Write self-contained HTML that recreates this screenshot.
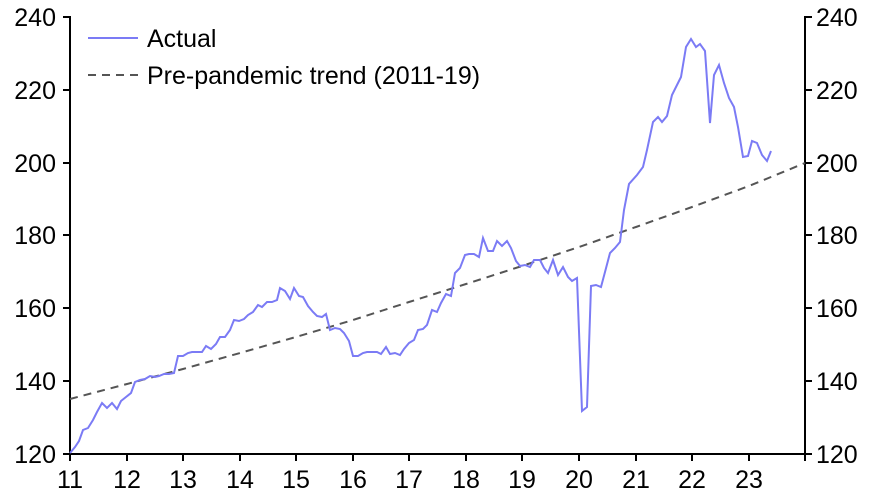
<!DOCTYPE html>
<html><head><style>body{margin:0;background:#fff}svg{display:block}text{font-family:"Liberation Sans",Arial,sans-serif;font-size:25px;fill:#000}</style></head><body>
<svg width="874" height="496" viewBox="0 0 874 496">
<g stroke="#000" stroke-width="2">
<line x1="70" y1="16" x2="70" y2="455"/>
<line x1="805" y1="16" x2="805" y2="455"/>
<line x1="63" y1="454" x2="805" y2="454"/>
<line x1="63" y1="17" x2="70" y2="17"/><line x1="63" y1="90" x2="70" y2="90"/><line x1="63" y1="163" x2="70" y2="163"/><line x1="63" y1="235" x2="70" y2="235"/><line x1="63" y1="308" x2="70" y2="308"/><line x1="63" y1="381" x2="70" y2="381"/>
<line x1="805" y1="17" x2="812" y2="17"/><line x1="805" y1="90" x2="812" y2="90"/><line x1="805" y1="163" x2="812" y2="163"/><line x1="805" y1="235" x2="812" y2="235"/><line x1="805" y1="308" x2="812" y2="308"/><line x1="805" y1="381" x2="812" y2="381"/><line x1="805" y1="454" x2="812" y2="454"/>
<line x1="70" y1="454" x2="70" y2="461"/><line x1="127" y1="454" x2="127" y2="461"/><line x1="183" y1="454" x2="183" y2="461"/><line x1="240" y1="454" x2="240" y2="461"/><line x1="296" y1="454" x2="296" y2="461"/><line x1="353" y1="454" x2="353" y2="461"/><line x1="409" y1="454" x2="409" y2="461"/><line x1="466" y1="454" x2="466" y2="461"/><line x1="522" y1="454" x2="522" y2="461"/><line x1="579" y1="454" x2="579" y2="461"/><line x1="636" y1="454" x2="636" y2="461"/><line x1="692" y1="454" x2="692" y2="461"/><line x1="749" y1="454" x2="749" y2="461"/><line x1="805" y1="454" x2="805" y2="461"/>
</g>
<g text-anchor="end">
<text x="56" y="26">240</text><text x="56" y="99">220</text><text x="56" y="172">200</text><text x="56" y="244">180</text><text x="56" y="317">160</text><text x="56" y="390">140</text><text x="56" y="463">120</text>
</g>
<g>
<text x="816" y="26">240</text><text x="816" y="99">220</text><text x="816" y="172">200</text><text x="816" y="244">180</text><text x="816" y="317">160</text><text x="816" y="390">140</text><text x="816" y="463">120</text>
</g>
<g text-anchor="middle">
<text x="70" y="488">11</text><text x="127" y="488">12</text><text x="183" y="488">13</text><text x="240" y="488">14</text><text x="296" y="488">15</text><text x="353" y="488">16</text><text x="409" y="488">17</text><text x="466" y="488">18</text><text x="522" y="488">19</text><text x="579" y="488">20</text><text x="636" y="488">21</text><text x="692" y="488">22</text><text x="749" y="488">23</text>
</g>
<polyline fill="none" stroke="#555" stroke-width="2" stroke-dasharray="8,6" points="70,399 127,384 183,369 240,353 296,337 353,320 409,302 466,284 522,266 579,247 636,227 692,207 749,186 805,163"/>
<polyline fill="none" stroke="#7b7bf5" stroke-width="2" points="70,453 75,447 79,441 83,430 88,428 93,420 97,412 102,403 107,408 112,403 117,409 121,401 126,397 131,393 135,382 140,380 145,379 150,376 155,377 159,376 164,374 169,374 174,373 178,356 183,356 188,353 192,352 197,352 202,352 206,346 211,349 216,344 220,337 225,337 230,330 234,320 239,321 244,319 248,315 253,312 258,305 262,307 267,302 272,302 277,300 280,288 285,291 290,299 294,288 299,296 303,297 308,306 313,312 317,316 322,317 326,314 330,330 335,328 340,329 344,333 349,341 353,356 358,356 363,353 367,352 372,352 377,352 381,354 386,347 390,354 395,353 400,355 404,349 409,343 414,340 418,330 423,329 427,325 432,310 437,312 441,303 446,294 451,296 455,273 460,268 465,255 469,254 474,254 479,257 483,238 488,251 493,251 497,241 502,246 507,241 511,248 516,261 520,266 525,265 530,267 534,260 540,260 544,268 548,273 553,260 558,275 563,267 568,277 572,281 577,278 582,411 587,407 591,286 596,285 601,287 605,272 610,253 615,248 620,242 624,210 629,184 637,175 643,167 647,150 653,122 658,117 662,122 667,116 672,95 677,85 681,77 686,47 691,39 696,47 700,44 705,51 710,123 714,75 719,65 724,83 729,98 734,107 738,127 743,157 748,156 752,141 757,143 762,155 767,161 771,151"/>
<line x1="88" y1="38" x2="138" y2="38" stroke="#7b7bf5" stroke-width="2"/>
<text x="147" y="47">Actual</text>
<line x1="88" y1="75" x2="138" y2="75" stroke="#555" stroke-width="2" stroke-dasharray="8,6"/>
<text x="147" y="84">Pre-pandemic trend (2011-19)</text>
</svg>
</body></html>
